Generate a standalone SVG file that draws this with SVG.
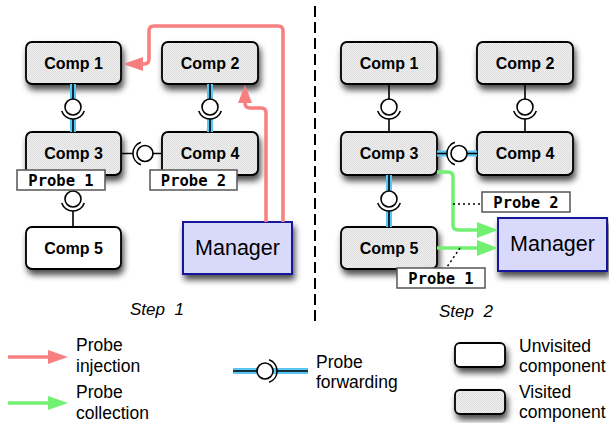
<svg xmlns="http://www.w3.org/2000/svg" width="609" height="423" viewBox="0 0 609 423">
<defs>
<style>
.box{stroke:#000;stroke-width:1.8}
.visited{fill:url(#dots)}
.unvisited{fill:#fff}
.ct{font-family:"Liberation Sans",Arial,sans-serif;font-weight:bold;font-size:16px;text-anchor:middle}
.mgr{fill:#d9d9fb;stroke:#16169a;stroke-width:2}
.mt{font-family:"Liberation Sans",Arial,sans-serif;font-size:21.5px;text-anchor:middle}
.plab{fill:#fff;stroke:#555;stroke-width:1.5}
.pt{font-family:"DejaVu Sans Mono",monospace;font-weight:bold;font-size:15.5px;text-anchor:middle}
.wire{stroke:#000;stroke-width:1.6;fill:none}
.hl{stroke:#5cc6f2;stroke-width:6;fill:none}
.inj{stroke:#f77f7f;stroke-width:3.5;fill:none}
.col{stroke:#72f072;stroke-width:3.5;fill:none}
.injh{fill:#f77f7f}
.colh{fill:#72f072}
.lg{font-family:"Liberation Sans",Arial,sans-serif;font-size:17.5px}
.step{font-family:"Liberation Sans",Arial,sans-serif;font-style:italic;font-size:17px;text-anchor:middle;word-spacing:5px}
.dot{stroke:#000;stroke-width:1.5;stroke-dasharray:2 3;fill:none}
</style>
<pattern id="dots" width="2" height="2" patternUnits="userSpaceOnUse">
<rect width="2" height="2" fill="#efefef"/>
<rect width="1" height="1" fill="#dddddd"/>
<rect x="1" y="1" width="1" height="1" fill="#dddddd"/>
</pattern>
<filter id="shadow" x="-20%" y="-20%" width="150%" height="170%">
<feDropShadow dx="2" dy="5" stdDeviation="3" flood-color="#000" flood-opacity="0.7"/>
</filter>
<!-- ball (provided interface) over a socket (required interface) opening upward -->
<g id="joint">
<circle r="8" fill="#fff" stroke="#000" stroke-width="1.6"/>
<path d="M-11.3,4.1 A12,12 0 0 0 11.3,4.1" fill="none" stroke="#000" stroke-width="1.6"/>
</g>
</defs>

<rect width="609" height="423" fill="#fff"/>

<!-- separator between the two steps -->
<line x1="315" y1="6" x2="315" y2="326" stroke="#000" stroke-width="2" stroke-dasharray="11 5"/>

<!-- Step 1 nodes -->
<g id="s1-comp1"><rect class="box visited" x="26" y="42" width="95" height="42" rx="6" filter="url(#shadow)"/><text class="ct" x="73.5" y="68.5">Comp 1</text></g>
<g id="s1-comp2"><rect class="box visited" x="162" y="42" width="96" height="42" rx="6" filter="url(#shadow)"/><text class="ct" x="210" y="68.5">Comp 2</text></g>
<g id="s1-comp3"><rect class="box visited" x="26" y="132" width="95" height="43" rx="6" filter="url(#shadow)"/><text class="ct" x="73.5" y="159">Comp 3</text></g>
<g id="s1-comp4"><rect class="box visited" x="162" y="132" width="96" height="43" rx="6" filter="url(#shadow)"/><text class="ct" x="210" y="159">Comp 4</text></g>
<g id="s1-comp5"><rect class="box unvisited" x="26" y="227" width="95" height="42" rx="6" filter="url(#shadow)"/><text class="ct" x="73.5" y="253.5">Comp 5</text></g>
<g id="s1-manager"><rect class="mgr" x="183" y="222" width="109" height="52" filter="url(#shadow)"/><text class="mt" x="237.5" y="254.5">Manager</text></g>

<!-- Step 2 nodes -->
<g id="s2-comp1"><rect class="box visited" x="341" y="42" width="96" height="42" rx="6" filter="url(#shadow)"/><text class="ct" x="389" y="68.5">Comp 1</text></g>
<g id="s2-comp2"><rect class="box visited" x="477" y="42" width="96" height="42" rx="6" filter="url(#shadow)"/><text class="ct" x="525" y="68.5">Comp 2</text></g>
<g id="s2-comp3"><rect class="box visited" x="341" y="132" width="96" height="43" rx="6" filter="url(#shadow)"/><text class="ct" x="389" y="159">Comp 3</text></g>
<g id="s2-comp4"><rect class="box visited" x="477" y="132" width="96" height="43" rx="6" filter="url(#shadow)"/><text class="ct" x="525" y="159">Comp 4</text></g>
<g id="s2-comp5"><rect class="box visited" x="341" y="227" width="96" height="42" rx="6" filter="url(#shadow)"/><text class="ct" x="389" y="253.5">Comp 5</text></g>
<g id="s2-manager"><rect class="mgr" x="498" y="218" width="109" height="53" filter="url(#shadow)"/><text class="mt" x="552.5" y="251">Manager</text></g>

<!-- connectors -->
<g id="connectors">
<!-- step 1 -->
<path class="hl" d="M73,84 V107 M73,119 V132 M210,84 V107 M210,119 V132"/>
<path class="wire" d="M73,84 V107 M73,119 V132 M210,84 V107 M210,119 V132"/>
<use href="#joint" x="73" y="107"/>
<use href="#joint" x="210" y="107"/>
<path class="wire" d="M121,153.5 H133 M145,153.5 H162"/>
<use href="#joint" transform="translate(145,153.5) rotate(90)"/>
<path class="wire" d="M73,175 V199 M73,211 V227"/>
<use href="#joint" x="73" y="199"/>

<!-- step 2 -->
<path class="wire" d="M389,84 V107 M389,119 V132 M525,84 V107 M525,119 V132"/>
<use href="#joint" x="389" y="107"/>
<use href="#joint" x="525" y="107"/>
<path class="hl" d="M437,153.5 H447 M459,153.5 H477"/>
<path class="wire" d="M437,153.5 H447 M459,153.5 H477"/>
<use href="#joint" transform="translate(459,153.5) rotate(90)"/>
<path class="hl" d="M389,175 V199 M389,211 V227"/>
<path class="wire" d="M389,175 V199 M389,211 V227"/>
<use href="#joint" x="389" y="199"/>

<!-- probe injection (step 1) -->
<path class="inj" d="M283,222 V31 Q283,26 278,26 H154 Q149,26 149,31 V59 Q149,64 144,64 H140"/>
<polygon class="injh" points="123,64 143,57 143,71"/>
<path class="inj" d="M266,222 V113 Q266,108 261,108 H250 Q245,108 245,103 V100"/>
<polygon class="injh" points="245,85 238,103 252,103"/>

<!-- probe collection (step 2) -->
<path class="col" d="M437,172 H448 Q453,172 453,177 V225 Q453,230 458,230 H480"/>
<polygon class="colh" points="498,230 477,222 477,238"/>
<path class="col" d="M437,248 H480"/>
<polygon class="colh" points="498,248 477,240 477,256"/>
<path class="dot" d="M453,204 H482"/>
<path class="dot" d="M460,248 L447,267"/>
</g>

<!-- probe labels -->
<g id="s1-probe1"><rect class="plab" x="17" y="170" width="88" height="20"/><text class="pt" x="61" y="185.5">Probe 1</text></g>
<g id="s1-probe2"><rect class="plab" x="150" y="170" width="87" height="20"/><text class="pt" x="193.5" y="185.5">Probe 2</text></g>
<g id="s2-probe2"><rect class="plab" x="482" y="192" width="88" height="20"/><text class="pt" x="526" y="207.5">Probe 2</text></g>
<g id="s2-probe1"><rect class="plab" x="397" y="268" width="88" height="20"/><text class="pt" x="441" y="283.5">Probe 1</text></g>

<text class="step" x="157" y="315">Step 1</text>
<text class="step" x="466" y="317">Step 2</text>

<!-- legend -->
<g id="legend">
<path class="inj" d="M8,357 H50"/>
<polygon class="injh" points="68,357 48,350 48,364"/>
<text class="lg" x="76" y="351">Probe</text>
<text class="lg" x="76" y="372">injection</text>

<path class="col" d="M8,403 H50"/>
<polygon class="colh" points="68,403 48,396 48,410"/>
<text class="lg" x="76" y="398">Probe</text>
<text class="lg" x="76" y="419">collection</text>

<path class="hl" d="M233,371 H308"/>
<path class="wire" d="M233,371 H265 M277,371 H308"/>
<use href="#joint" transform="translate(265,371) rotate(-90)"/>
<text class="lg" x="316" y="368">Probe</text>
<text class="lg" x="316" y="388">forwarding</text>

<rect class="box unvisited" x="455" y="343" width="50" height="24" rx="5" filter="url(#shadow)"/>
<text class="lg" x="519" y="352">Unvisited</text>
<text class="lg" x="519" y="372">component</text>
<rect class="box visited" x="455" y="390" width="50" height="24" rx="5" filter="url(#shadow)"/>
<text class="lg" x="519" y="398">Visited</text>
<text class="lg" x="519" y="418">component</text>
</g>
</svg>
